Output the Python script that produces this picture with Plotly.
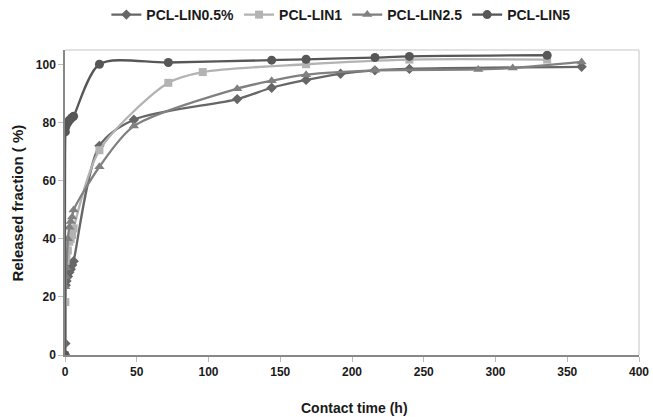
import plotly.graph_objects as go

# PCL-LIN0.5%
t_lin05 = [0, 0.25, 0.5, 1, 2, 3, 4, 5, 6, 24, 48, 120, 144, 168, 192, 216, 240, 360]
v_lin05 = [0, 4, 24, 25.5, 27, 28.5, 29.5, 31, 32.3, 72, 81, 88.1, 92, 94.7, 96.8, 98, 98.5, 99.2]

# PCL-LIN1
t_lin1 = [0, 0.25, 0.5, 1, 2, 3, 4, 5, 6, 24, 72, 96, 168, 240, 336]
v_lin1 = [0, 18.2, 32.4, 34, 36, 39, 40, 41.3, 43.6, 70.5, 93.7, 97.4, 100.1, 101.7, 101.7]

# PCL-LIN2.5
t_lin25 = [0, 0.25, 0.5, 1, 2, 3, 4, 5, 6, 24, 48, 120, 144, 168, 216, 288, 312, 360]
v_lin25 = [0, 23.5, 27, 30, 40, 44, 46, 47.5, 49.9, 64.8, 78.8, 91.7, 94.4, 96.5, 98, 98.3, 98.8, 100.9]

# PCL-LIN5
t_lin5 = [0, 0.25, 0.5, 1, 2, 3, 4, 5, 6, 24, 72, 144, 168, 216, 240, 336]
v_lin5 = [0, 76.8, 78.5, 79.3, 80, 80.8, 81.3, 81.8, 82.2, 100.1, 100.7, 101.5, 101.8, 102.4, 102.8, 103.2]

x_title = "Contact time (h)"
y_title = "Released fraction ( %)"

series = [
    ("PCL-LIN0.5%", t_lin05, v_lin05, "#666666", "diamond", 8),
    ("PCL-LIN1", t_lin1, v_lin1, "#b3b3b3", "square", 8),
    ("PCL-LIN2.5", t_lin25, v_lin25, "#808080", "triangle-up", 9),
    ("PCL-LIN5", t_lin5, v_lin5, "#575757", "circle", 9),
]

fig = go.Figure()
for name, t, v, col, sym, sz in series:
    fig.add_trace(go.Scatter(
        x=t, y=v, name=name, mode="lines+markers",
        line=dict(color=col, width=2.3, shape="spline", smoothing=0.8),
        marker=dict(symbol=sym, size=sz, color=col),
    ))

font_family = "Liberation Sans, Arial, sans-serif"
fig.update_layout(
    width=653, height=417,
    margin=dict(l=65, r=14, t=50, b=62),
    plot_bgcolor="white", paper_bgcolor="white",
    font=dict(family=font_family, size=12, color="#1a1a1a"),
    showlegend=True,
    legend=dict(
        orientation="h", x=0.522, xanchor="center", xref="container",
        y=0.964, yanchor="middle", yref="container",
        font=dict(size=14, family=font_family, weight="bold"),
        itemwidth=30, tracegroupgap=0,
    ),
    xaxis=dict(
        range=[0, 400], dtick=50, showgrid=False, zeroline=False, automargin=False,
        showline=True, linecolor="#888888", linewidth=1.5,
        ticks="outside", ticklen=5, tickcolor="#bbbbbb",
        tickfont=dict(size=12, weight="bold"),
    ),
    yaxis=dict(
        range=[0, 105], tickvals=[0, 20, 40, 60, 80, 100], showgrid=False, zeroline=False,
        automargin=False,
        showline=True, linecolor="#888888", linewidth=1.5,
        ticks="outside", ticklen=5, tickcolor="#bbbbbb",
        tickfont=dict(size=12, weight="bold"),
    ),
    annotations=[
        dict(text=x_title, xref="paper", yref="paper", x=0.504, y=-0.174,
             xanchor="center", yanchor="middle", showarrow=False,
             font=dict(size=14, weight="bold")),
        dict(text=y_title, xref="paper", yref="paper", x=-0.082, y=0.50,
             xanchor="center", yanchor="middle", showarrow=False, textangle=-90,
             font=dict(size=15, weight="bold")),
    ],
)
# light grey frame on top and right
fig.add_shape(type="line", xref="paper", yref="paper", x0=0, x1=1, y0=1, y1=1,
              line=dict(color="#d9d9d9", width=1.5))
fig.add_shape(type="line", xref="paper", yref="paper", x0=1, x1=1, y0=0, y1=1,
              line=dict(color="#d9d9d9", width=1.5))

fig.write_html("out.html", config={"displayModeBar": False})

# remove the default page margin so the figure sits at the window's corner
with open("out.html", "r", encoding="utf-8") as f:
    html = f.read()
html = html.replace("<head>", "<head><style>html,body{margin:0;padding:0;overflow:hidden;}</style>", 1)
with open("out.html", "w", encoding="utf-8") as f:
    f.write(html)
